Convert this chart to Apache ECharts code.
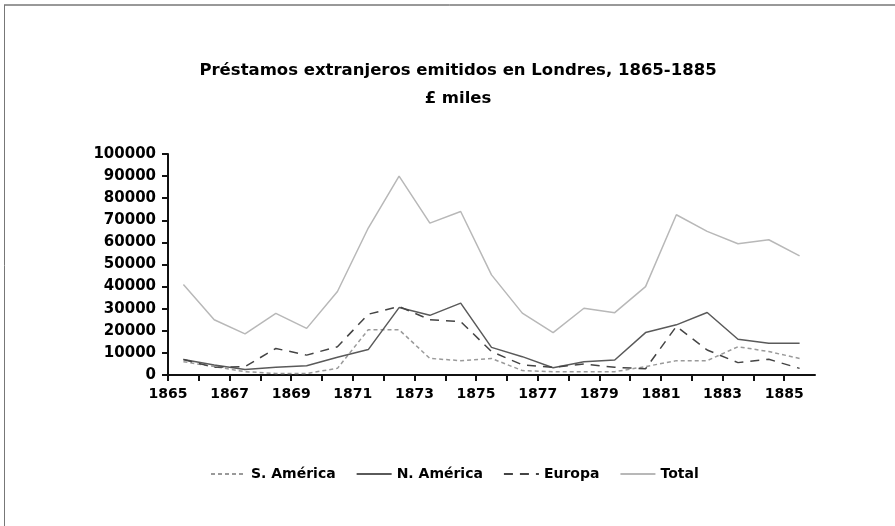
<!DOCTYPE html>
<html>
<head>
<meta charset="utf-8">
<script src="https://cdn.jsdelivr.net/npm/echarts@6/dist/echarts.min.js"></script>
<style>
html,body{margin:0;padding:0;background:#fff;}
#chart{width:895px;height:526px;}
</style>
</head>
<body>
<div id="chart"></div>
<script>
const years = [1865,1866,1867,1868,1869,1870,1871,1872,1873,1874,1875,1876,1877,1878,1879,1880,1881,1882,1883,1884,1885];
const sAmerica = [6000,3800,1500,700,700,3000,20500,20500,7500,6500,7500,2000,1500,1500,1500,3800,6500,6500,12800,10600,7500];
const nAmerica = [7000,4500,2500,3500,4200,8000,11500,30500,27000,32500,12500,8300,3300,6000,6800,19200,22700,28300,16200,14400,14400];
const europa = [7000,3500,3800,12000,9000,12800,27500,31000,25000,24200,10600,4600,3500,5000,3500,2800,22000,11300,5600,7100,3000];
const total = [41000,25000,18600,27900,21100,37800,66500,90000,68700,74000,45300,28000,19200,30200,28200,40000,72500,65000,59400,61200,53900];
const seriesNames = ['S. América','N. América','Europa','Total'];
const titleText = 'Préstamos extranjeros emitidos en Londres, 1865-1885';
const subtitleText = '£ miles';

const FONT = '"DejaVu Sans", sans-serif';
const pts = arr => arr.map((v, i) => [years[i] + 0.5, v]);

const chart = echarts.init(document.getElementById('chart'), null, {renderer: 'canvas'});
chart.setOption({
  animation: false,
  backgroundColor: '#fff',
  title: {
    text: titleText + '\n' + subtitleText,
    left: 453, top: 52, textAlign: 'center',
    textStyle: {fontFamily: FONT, fontWeight: 'bold', fontSize: 16.5, color: '#000', lineHeight: 28}
  },
  graphic: [
    {type: 'line', shape: {x1: 4, y1: 5, x2: 895, y2: 5}, style: {stroke: '#333', lineWidth: 1}},
    {type: 'line', shape: {x1: 4.5, y1: 5, x2: 4.5, y2: 526}, style: {stroke: '#777', lineWidth: 1}}
  ],
  legend: {
    left: 205, top: 462,
    itemWidth: 35, itemHeight: 10, itemGap: 20,
    data: seriesNames,
    itemStyle: {opacity: 0},
    textStyle: {fontFamily: FONT, fontWeight: 'bold', fontSize: 14, color: '#000'}
  },
  grid: {left: 168, right: 80, top: 154, bottom: 151, containLabel: false},
  xAxis: {
    type: 'value', min: 1865, max: 1886, interval: 1,
    splitLine: {show: false},
    axisLine: {lineStyle: {color: '#111', width: 2}},
    axisTick: {show: true, length: 6, lineStyle: {color: '#111', width: 2}},
    axisLabel: {
      margin: 12, color: '#000', fontFamily: FONT, fontWeight: 'bold', fontSize: 14,
      showMaxLabel: false,
      formatter: v => ((v - years[0]) % 2 === 0 && v <= years[years.length - 1]) ? String(v) : ''
    }
  },
  yAxis: {
    type: 'value', min: 0, max: 100000, interval: 10000,
    splitLine: {show: false},
    axisLine: {show: true, lineStyle: {color: '#111', width: 2}},
    axisTick: {show: true, length: 6, lineStyle: {color: '#111', width: 2}},
    axisLabel: {margin: 12, color: '#000', fontFamily: FONT, fontWeight: 'bold', fontSize: 15,
      formatter: v => String(v)}
  },
  series: [
    {name: seriesNames[0], type: 'line', data: pts(sAmerica), symbol: 'none',
      itemStyle: {color: '#9a9a9a'}, lineStyle: {color: '#9a9a9a', width: 1.5, type: [4, 3]}},
    {name: seriesNames[1], type: 'line', data: pts(nAmerica), symbol: 'none',
      itemStyle: {color: '#5a5a5a'}, lineStyle: {color: '#5a5a5a', width: 1.5}},
    {name: seriesNames[2], type: 'line', data: pts(europa), symbol: 'none',
      itemStyle: {color: '#444'}, lineStyle: {color: '#444', width: 1.5, type: [9, 7]}},
    {name: seriesNames[3], type: 'line', data: pts(total), symbol: 'none',
      itemStyle: {color: '#b8b8b8'}, lineStyle: {color: '#b8b8b8', width: 1.5}}
  ]
});
</script>
</body>
</html>
